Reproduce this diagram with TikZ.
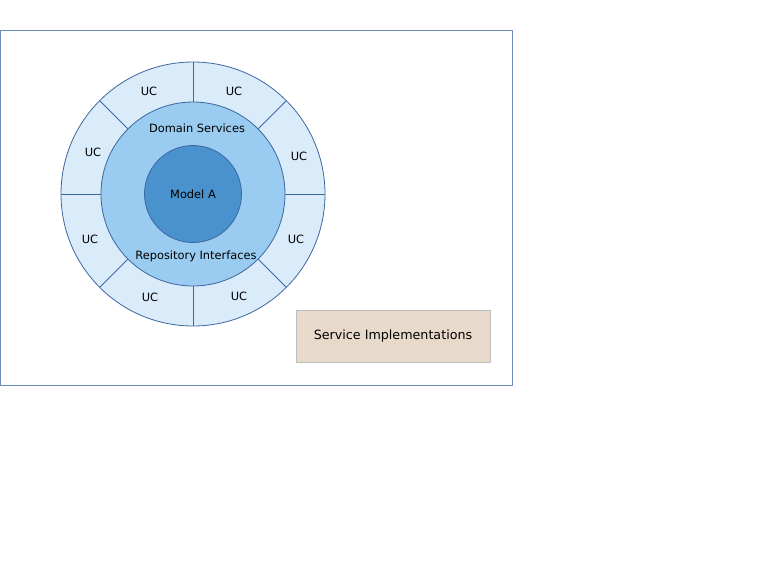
\documentclass[tikz,border=0pt]{standalone}
\usepackage{fontspec}
\setmainfont{DejaVu Sans}
\usetikzlibrary{calc}
\definecolor{frameblue}{RGB}{108,142,191}
\definecolor{ringstroke}{RGB}{62,102,160}
\definecolor{ucfill}{RGB}{218,235,250}
\definecolor{dsfill}{RGB}{153,204,240}
\definecolor{modelfill}{RGB}{74,146,206}
\definecolor{tanfill}{RGB}{232,218,202}
\definecolor{tanstroke}{RGB}{190,190,190}
\tikzset{
  ring/.style={circle, draw=ringstroke, line width=0.8pt, inner sep=0pt},
  lbl/.style={font=\fontsize{11.4}{13}\selectfont, text=black, inner sep=0pt},
  divider/.style={draw=ringstroke, line width=0.8pt},
}
\begin{document}
\begin{tikzpicture}[x=1pt,y=-1pt]
\useasboundingbox (0,0) rectangle (783,582);
\node[draw=frameblue, line width=0.8pt, minimum width=512pt, minimum height=355pt, inner sep=0pt] (frame) at (256.5,207.5) {};
\node[ring, fill=ucfill, minimum size=264pt] (outer) at (193,194) {};
\node[ring, fill=dsfill, minimum size=184pt] (mid) at (193,194) {};
\node[ring, fill=modelfill, minimum size=97pt] (inner) at (193,194) {};
\foreach \a [count=\i] in {0,45,...,315}{
  \coordinate (d\i a) at ($(outer.center)+(\a:92)$);
  \coordinate (d\i b) at ($(outer.center)+(\a:132)$);
  \draw[divider] (d\i a) -- (d\i b);
}
\node[lbl] (uc1) at (149,91.5) {UC};
\node[lbl] (uc2) at (234,91.5) {UC};
\node[lbl] (uc3) at (299,156) {UC};
\node[lbl] (uc4) at (296,239.5) {UC};
\node[lbl] (uc5) at (239,296.5) {UC};
\node[lbl] (uc6) at (150,297.5) {UC};
\node[lbl] (uc7) at (90,239.5) {UC};
\node[lbl] (uc8) at (93,152) {UC};
\node[lbl] (ds) at (197,128) {Domain Services};
\node[lbl] (ri) at (196,256) {Repository Interfaces};
\node[lbl] (ma) at (193,194) {Model A};
\node[draw=tanstroke, fill=tanfill, line width=0.8pt, minimum width=194pt, minimum height=52pt, inner sep=0pt, font=\fontsize{12.7}{14}\selectfont] (si) at (393,336) {Service Implementations};
\end{tikzpicture}
\end{document}
